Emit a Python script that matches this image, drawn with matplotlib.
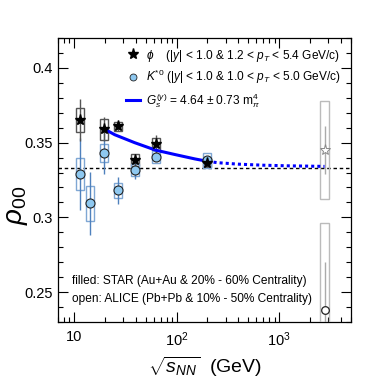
import numpy as np
import matplotlib
matplotlib.use("Agg")
import matplotlib.pyplot as plt
from matplotlib.patches import Rectangle
from matplotlib.lines import Line2D
from matplotlib.ticker import FixedLocator, MultipleLocator, FuncFormatter, LogLocator, NullFormatter

plt.rcParams['font.family'] = ['Liberation Sans', 'DejaVu Sans']
plt.rcParams['mathtext.fontset'] = 'custom'
plt.rcParams['mathtext.rm'] = 'Liberation Sans'
plt.rcParams['mathtext.it'] = 'Liberation Sans:italic'

# STAR phi (filled stars)
phi_e = [11.5, 19.6, 27, 39, 62.4, 200]
phi_v = [0.3649, 0.3590, 0.3608, 0.3383, 0.3490, 0.3365]
phi_stat = [0.014, 0.008, 0.003, 0.004, 0.006, 0.003]
phi_sys = [0.008, 0.007, 0.0033, 0.004, 0.004, 0.003]

# STAR K*0 (filled circles)
kst_e = [11.5, 14.5, 19.6, 27, 39, 62.4, 200]
kst_v = [0.329, 0.3093, 0.3431, 0.318, 0.3318, 0.3405, 0.3383]
kst_stat = [0.024, 0.021, 0.014, 0.009, 0.006, 0.003, 0.003]
kst_sys = [0.0107, 0.012, 0.006, 0.005, 0.004, 0.004, 0.005]

# ALICE (open markers)
alice_e = [2760]
alice_phi_v = [0.345]
alice_phi_stat = [0.0163]
alice_phi_sys = [0.033]
alice_kst_v = [0.238]
alice_kst_stat = [0.032]
alice_kst_sys = [0.058]

# G_s fit curve
fit_e = [19.6, 25, 39, 62.4, 97, 151, 200]
fit_v = [0.3593, 0.3553, 0.3500, 0.3450, 0.3420, 0.3391, 0.3375]
ext_e = [200, 250, 400, 700, 1200, 2760]
ext_v = [0.3375, 0.3366, 0.3356, 0.3349, 0.3345, 0.3341]

BOX_F = 1.094


def add_boxes(ax, e, v, sys, color, lw=1.0):
    for x, y, s in zip(e, v, sys):
        ax.add_patch(Rectangle((x / BOX_F, y - s), x * BOX_F - x / BOX_F, 2 * s,
                               fill=False, edgecolor=color, lw=lw, zorder=3))


fig = plt.figure(figsize=(3.9, 3.79), dpi=100)
ax = fig.add_axes([0.1487, 0.1504, 0.7513, 0.7493])

ax.axhline(1 / 3, color='k', ls=(0, (2.5, 2)), lw=1.0, zorder=2)

# systematic boxes
add_boxes(ax, phi_e, phi_v, phi_sys, '#555555')
add_boxes(ax, kst_e, kst_v, kst_sys, '#7fa7d4')
add_boxes(ax, alice_e, alice_phi_v, alice_phi_sys, '#bbbbbb')
add_boxes(ax, alice_e, alice_kst_v, alice_kst_sys, '#bbbbbb')

# stat errors
ax.errorbar(kst_e, kst_v, yerr=kst_stat, fmt='none', ecolor='#4f81bd', elinewidth=1.0, capsize=0, zorder=4)
ax.errorbar(phi_e, phi_v, yerr=phi_stat, fmt='none', ecolor='#555555', elinewidth=1.0, capsize=0, zorder=4)
ax.errorbar(alice_e, alice_phi_v, yerr=alice_phi_stat, fmt='none', ecolor='#aaaaaa', elinewidth=1.0, capsize=0, zorder=4)
ax.errorbar(alice_e, alice_kst_v, yerr=alice_kst_stat, fmt='none', ecolor='#aaaaaa', elinewidth=1.0, capsize=0, zorder=4)

# fit curve
ax.plot(fit_e, fit_v, color='#0000ff', lw=2.2, zorder=5, solid_capstyle='butt')
ax.plot(ext_e, ext_v, color='#0000ff', lw=2.2, ls=(0, (1, 1)), zorder=5)

# markers
ax.plot(kst_e, kst_v, 'o', ms=6.5, mfc='#8ec8f0', mec='#222222', mew=0.8, zorder=6)
ax.plot(phi_e, phi_v, '*', ms=8, color='k', zorder=7)
ax.plot(alice_e, alice_phi_v, '*', ms=8, mfc='white', mec='#888888', mew=0.7, zorder=7)
ax.plot(alice_e, alice_kst_v, 'o', ms=5.5, mfc='white', mec='#222222', mew=0.9, zorder=7)

ax.set_xscale('log')
ax.set_xlim(7, 5000)
ax.set_ylim(0.23, 0.42)

ax.xaxis.set_major_locator(FixedLocator([10, 100, 1000]))
ax.xaxis.set_major_formatter(FuncFormatter(lambda x, p: '10' if x == 10 else r'$10^{%d}$' % round(np.log10(x))))
ax.xaxis.set_minor_locator(LogLocator(base=10, subs=np.arange(2, 10)))
ax.xaxis.set_minor_formatter(NullFormatter())
ax.yaxis.set_major_locator(MultipleLocator(0.05))
ax.yaxis.set_minor_locator(MultipleLocator(0.01))
ax.yaxis.set_major_formatter(FuncFormatter(lambda y, p: '%g' % round(y, 3)))

ax.tick_params(which='both', direction='in', top=True, right=True, labelsize=10.5, width=0.8)
ax.tick_params(which='major', length=7)
ax.tick_params(which='minor', length=3.5)
ax.tick_params(axis='x', which='major', pad=6)
for sp in ax.spines.values():
    sp.set_linewidth(0.9)

ax.set_ylabel(r'$\rho_{00}$', fontsize=20)
ax.yaxis.set_label_coords(-0.095, 0.41)
ax.set_xlabel(r'$\sqrt{s_{NN}}$  (GeV)', fontsize=14)

handles = [
    Line2D([], [], marker='*', ls='none', color='k', ms=8),
    Line2D([], [], marker='o', ls='none', mfc='#8ec8f0', mec='#222222', mew=0.6, ms=5),
    Line2D([], [], color='#0000ff', lw=2.2),
]
labels = [
    r'$\phi$    ($|y|$ < 1.0 & 1.2 < $p_T$ < 5.4 GeV/c)',
    r'$K^{*0}$ ($|y|$ < 1.0 & 1.0 < $p_T$ < 5.0 GeV/c)',
    r'$G_s^{(y)}$ = 4.64 $\pm$ 0.73 m$_\pi^4$',
]
ax.legend(handles, labels, loc='upper left', bbox_to_anchor=(0.2, 1.0), frameon=False,
          fontsize=8.55, handlelength=1.2, handletextpad=0.45, labelspacing=0.4, borderaxespad=0.4)

ax.text(0.048, 0.144, 'filled: STAR (Au+Au & 20% - 60% Centrality)', transform=ax.transAxes,
        fontsize=8.6, va='center', ha='left')
ax.text(0.048, 0.081, 'open: ALICE (Pb+Pb & 10% - 50% Centrality)', transform=ax.transAxes,
        fontsize=8.6, va='center', ha='left')

fig.savefig('out.png', dpi=100)
